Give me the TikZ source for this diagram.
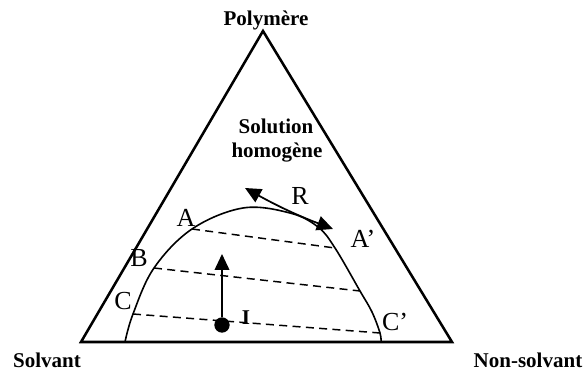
\documentclass[tikz,border=0pt]{standalone}
\usepackage{fontspec}
\setmainfont{Liberation Serif}
\usepackage{tikz}
\usetikzlibrary{arrows.meta, positioning}

\begin{document}
\begin{tikzpicture}[x=0.75pt, y=-0.75pt,
        corner/.style={font=\fontsize{15.75}{18}\selectfont\bfseries, anchor=base, inner sep=0},
        pt/.style={font=\fontsize{19.5}{22}\selectfont, inner sep=0},
        tie/.style={dashed, dash pattern=on 6pt off 4pt, line width=1.1pt},
        tip/.style={-{Triangle[length=12pt, width=11pt]}, line width=1.3pt}]
        \useasboundingbox (0,0) rectangle (583,374);
        % triangle
        \coordinate (P) at (263,31);
        \coordinate (S) at (81,342);
        \coordinate (N) at (452,342);
        \draw[line width=1.9pt, line join=miter] (P) -- (S) -- (N) -- cycle;
        \node[corner] (poly) at (266,26) {Polymère};
        \node[corner] (solv) at (47,368) {Solvant};
        \node[corner] (nonsolv) at (528,368) {Non-solvant};
        \node[corner] (sol) at (276,134) {Solution};
        \node[corner] (homo) at (277,158) {homogène};
%
        % binodal
        \coordinate (A) at (192,229);
        \coordinate (A2) at (335,248);
        \coordinate (B) at (154,268);
        \coordinate (B2) at (360,291);
        \coordinate (C) at (133,314);
        \coordinate (C2) at (380,333);
        \draw[line width=1.2pt] plot[smooth, tension=0.6] coordinates
            {(125,342) (C) (B) (A) (243,208) (290,213) (318,227) (A2) (B2) (372,312) (C2) (381,342)};
        \draw[tie] (A) -- (A2);
        \draw[tie] (B) -- (B2);
        \draw[tie] (C) -- (C2);
        \node[pt] (lA) at (186,218) {A};
        \node[pt] (lB) at (139,258) {B};
        \node[pt] (lC) at (123,301) {C};
        \node[pt] (lA2) at (363,239) {A’};
        \node[pt] (lC2) at (395,322) {C’};
%
        % R
        \coordinate (r1) at (245,188);
        \coordinate (r2) at (333,229);
        \draw[tip, {Triangle[length=12pt, width=11pt]}-{Triangle[length=12pt, width=11pt]}] (r1) to[bend right=4] (r2);
        \node[pt] (lR) at (300,196) {R};
%
        % I
        \node[circle, fill, inner sep=0, minimum size=11.5pt] (I) at (222,325) {};
        \coordinate (top) at (222,254);
        \draw[tip] (I) -- (top);
        \node[corner] (lI) at (246,325) {I};
\end{tikzpicture}
\end{document}
